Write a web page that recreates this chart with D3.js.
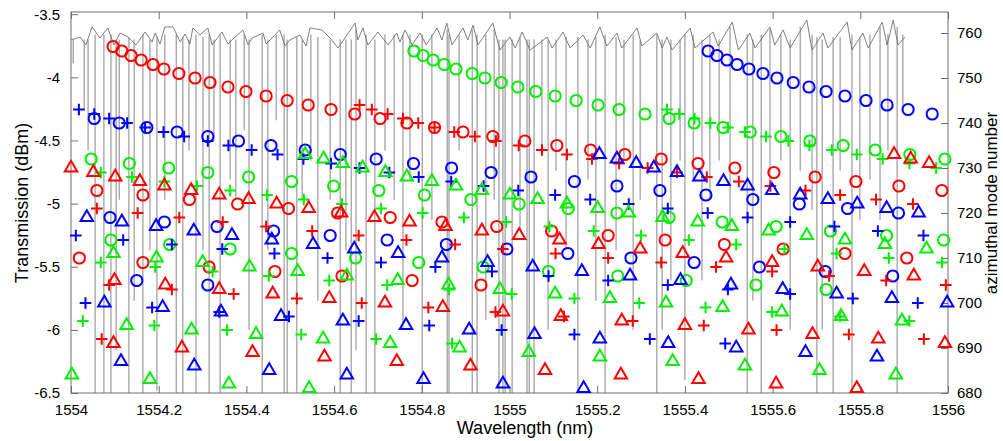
<!DOCTYPE html>
<html>
<head>
<meta charset="utf-8">
<script src="https://cdn.jsdelivr.net/npm/d3@7"></script>
<style>
  body { margin: 0; background: #fff; }
  svg { display: block; }
  text { font-family: "Liberation Sans", Arial, sans-serif; fill: #000; }
</style>
</head>
<body>
<svg id="chart" width="1003" height="441"></svg>
<script>
// axis ticks
const xTicks = [1554, 1554.2, 1554.4, 1554.6, 1554.8, 1555, 1555.2, 1555.4, 1555.6, 1555.8, 1556];
const leftTicks = [-6.5, -6, -5.5, -5, -4.5, -4, -3.5];
const rightTicks = [680, 690, 700, 710, 720, 730, 740, 750, 760];

// transmission trace: slowly varying top of the spectrum [wavelength, dBm]
const traceTop = [
  [1554.000,-3.704],[1554.021,-3.681],[1554.034,-3.744],[1554.048,-3.601],[1554.066,-3.689],[1554.084,-3.609],
  [1554.098,-3.744],[1554.112,-3.649],[1554.130,-3.681],[1554.148,-3.744],[1554.169,-3.641],[1554.185,-3.720],
  [1554.192,-3.649],[1554.203,-3.736],[1554.214,-3.601],[1554.233,-3.601],[1554.249,-3.720],[1554.260,-3.657],
  [1554.271,-3.736],[1554.278,-3.609],[1554.294,-3.665],[1554.312,-3.609],[1554.322,-3.744],[1554.344,-3.641],
  [1554.358,-3.736],[1554.367,-3.704],[1554.392,-3.625],[1554.404,-3.744],[1554.413,-3.689],[1554.438,-3.649],
  [1554.445,-3.736],[1554.454,-3.704],[1554.476,-3.625],[1554.488,-3.752],[1554.499,-3.704],[1554.522,-3.665],
  [1554.536,-3.752],[1554.545,-3.609],[1554.572,-3.625],[1554.591,-3.689],[1554.609,-3.768],[1554.648,-3.570],
  [1554.654,-3.704],[1554.666,-3.609],[1554.677,-3.744],[1554.700,-3.641],[1554.723,-3.744],[1554.743,-3.649],
  [1554.750,-3.720],[1554.762,-3.625],[1554.778,-3.744],[1554.796,-3.649],[1554.810,-3.744],[1554.835,-3.609],
  [1554.846,-3.704],[1554.857,-3.570],[1554.869,-3.744],[1554.894,-3.609],[1554.905,-3.704],[1554.917,-3.586],
  [1554.928,-3.744],[1554.962,-3.570],[1554.978,-3.784],[1555.001,-3.681],[1555.013,-3.768],[1555.029,-3.641],
  [1555.047,-3.784],[1555.086,-3.681],[1555.097,-3.768],[1555.122,-3.641],[1555.138,-3.768],[1555.168,-3.665],
  [1555.184,-3.768],[1555.206,-3.601],[1555.222,-3.752],[1555.245,-3.649],[1555.256,-3.768],[1555.291,-3.609],
  [1555.302,-3.752],[1555.336,-3.649],[1555.348,-3.768],[1555.359,-3.681],[1555.371,-3.784],[1555.412,-3.609],
  [1555.423,-3.768],[1555.464,-3.641],[1555.476,-3.752],[1555.508,-3.562],[1555.522,-3.784],[1555.548,-3.649],
  [1555.560,-3.768],[1555.594,-3.601],[1555.605,-3.744],[1555.624,-3.625],[1555.640,-3.768],[1555.678,-3.546],
  [1555.690,-3.784],[1555.715,-3.649],[1555.726,-3.768],[1555.770,-3.562],[1555.781,-3.784],[1555.806,-3.649],
  [1555.818,-3.768],[1555.850,-3.562],[1555.861,-3.744],[1555.875,-3.546],[1555.886,-3.744],[1555.902,-3.681]
];

// resonance dips of the trace [wavelength, level at dip top, dip minimum] (below -6.5 is off scale)
const traceDips = [
  [1554.005,-3.70,-3.89],[1554.030,-3.70,-4.26],[1554.039,-3.70,-4.58],[1554.055,-3.66,-7],[1554.075,-3.66,-7],
  [1554.091,-3.66,-7],[1554.103,-3.70,-6.16],[1554.110,-3.70,-4.97],[1554.132,-3.68,-7],[1554.144,-3.70,-5.77],
  [1554.164,-3.66,-7],[1554.180,-3.70,-5.37],[1554.196,-3.68,-6.48],[1554.214,-3.66,-4.97],[1554.240,-3.66,-7],
  [1554.255,-3.68,-7],[1554.269,-3.70,-4.58],[1554.285,-3.66,-7],[1554.301,-3.68,-5.37],[1554.315,-3.66,-7],
  [1554.326,-3.70,-4.50],[1554.340,-3.66,-7],[1554.363,-3.70,-4.81],[1554.376,-3.70,-4.97],[1554.395,-3.66,-4.42],
  [1554.406,-3.70,-6.00],[1554.436,-3.66,-7],[1554.449,-3.70,-5.37],[1554.468,-3.66,-4.34],[1554.486,-3.66,-7],
  [1554.493,-3.70,-7],[1554.515,-3.68,-7],[1554.527,-3.70,-4.97],[1554.547,-3.66,-4.66],[1554.563,-3.68,-5.77],
  [1554.591,-3.70,-4.97],[1554.614,-3.70,-7],[1554.627,-3.70,-5.37],[1554.639,-3.70,-7],[1554.650,-3.62,-6.16],
  [1554.673,-3.66,-7],[1554.693,-3.70,-7],[1554.716,-3.66,-4.58],[1554.737,-3.66,-4.97],[1554.757,-3.66,-6.00],
  [1554.773,-3.66,-4.81],[1554.801,-3.66,-7],[1554.823,-3.66,-5.13],[1554.858,-3.62,-7],[1554.862,-3.66,-7],
  [1554.885,-3.66,-4.58],[1554.915,-3.62,-7],[1554.926,-3.66,-7],[1554.946,-3.66,-5.92],[1554.965,-3.62,-4.97],
  [1554.976,-3.70,-7],[1554.985,-3.70,-7],[1554.990,-3.70,-7],[1555.006,-3.70,-7],[1555.024,-3.68,-5.21],
  [1555.040,-3.70,-7],[1555.045,-3.70,-7],[1555.056,-3.70,-7],[1555.074,-3.70,-4.58],[1555.088,-3.70,-6.00],
  [1555.106,-3.70,-4.74],[1555.129,-3.68,-5.37],[1555.156,-3.68,-7],[1555.179,-3.70,-4.81],[1555.197,-3.68,-5.77],
  [1555.218,-3.66,-7],[1555.243,-3.68,-5.37],[1555.261,-3.70,-4.66],[1555.282,-3.66,-6.00],[1555.298,-3.70,-4.97],
  [1555.336,-3.66,-7],[1555.348,-3.70,-6.00],[1555.368,-3.70,-5.61],[1555.389,-3.70,-4.66],[1555.400,-3.66,-6.40],
  [1555.419,-3.66,-4.81],[1555.439,-3.70,-5.61],[1555.457,-3.66,-4.97],[1555.478,-3.70,-4.66],[1555.503,-3.60,-5.21],
  [1555.542,-3.66,-7],[1555.555,-3.70,-5.77],[1555.574,-3.66,-7],[1555.594,-3.62,-4.89],[1555.619,-3.66,-4.66],
  [1555.640,-3.70,-6.00],[1555.663,-3.60,-4.74],[1555.690,-3.66,-5.05],[1555.701,-3.68,-7],[1555.713,-3.70,-6.00],
  [1555.738,-3.68,-7],[1555.754,-3.68,-4.74],[1555.781,-3.66,-7],[1555.799,-3.68,-5.13],[1555.822,-3.66,-4.81],
  [1555.845,-3.60,-5.13],[1555.863,-3.66,-4.58],[1555.884,-3.60,-7],[1555.897,-3.66,-4.26]
];

// measured resonances [wavelength (nm), azimuthal mode number]
const redCircles = [
  [1554.096,757],[1554.116,756],[1554.137,755],[1554.160,754],[1554.187,753],[1554.212,752],[1554.246,751],
  [1554.283,750],[1554.317,749],[1554.358,748],[1554.399,747],[1554.445,746],[1554.493,745],[1554.541,744],
  [1554.593,743],[1554.647,742],[1554.705,741],[1554.766,740],[1554.829,739],[1554.894,738],[1554.962,737],
  [1555.035,736],[1555.108,735],[1555.185,734],[1555.263,733],[1555.346,732],[1555.430,731],[1555.514,730],
  [1555.603,729],[1555.697,728],[1555.790,727],[1555.888,726],[1555.986,725],
  [1554.059,725],[1554.164,724],[1554.270,723],[1554.380,722],[1554.496,721],[1554.608,720],[1554.728,719],
  [1554.846,718],[1554.971,717],[1555.096,716],[1555.225,715],[1555.355,714],[1555.490,713],[1555.624,712],
  [1555.765,711],[1555.906,710],
  [1554.019,710],[1554.164,709],[1554.315,708],[1554.465,707],[1554.618,706],[1554.778,705],[1554.935,704]
];
const redPlus = [
  [1554.658,744],[1554.686,743],[1554.722,742],[1554.757,741],[1554.792,740],[1554.829,739],[1554.874,738],
  [1554.921,737],[1554.969,736],[1555.021,735],[1555.074,734],[1555.131,733],[1555.188,732],[1555.250,731],
  [1555.315,730],[1555.382,729],[1555.450,728],[1555.523,727],[1555.595,726],[1555.675,725],[1555.754,724],
  [1555.836,723],[1555.920,722],
  [1554.059,721],[1554.152,720],[1554.247,719],[1554.346,718],[1554.445,717],[1554.550,716],[1554.656,715],
  [1554.765,714],[1554.876,713],[1554.985,712],[1555.105,711],[1555.225,710],[1555.346,709],[1555.471,708],
  [1555.599,707],[1555.729,706],[1555.859,705],[1555.995,704],
  [1554.087,704],[1554.230,703],[1554.371,702],[1554.515,701],[1554.663,700],[1554.815,699],[1554.968,698],
  [1555.124,697],[1555.281,696],[1555.443,695],[1555.609,694],[1555.774,693],[1555.945,692],
  [1554.070,692]
];
const redTriangles = [
  [1555.877,733],[1555.915,732],[1555.957,731],
  [1554.000,730],[1554.051,729],[1554.101,728],[1554.157,727],[1554.213,726],[1554.274,725],[1554.338,724],
  [1554.405,723],[1554.469,722],[1554.542,721],[1554.616,720],[1554.692,719],[1554.772,718],[1554.854,717],
  [1554.937,716],[1555.022,715],[1555.114,714],[1555.203,713],[1555.298,712],[1555.395,711],[1555.494,710],
  [1555.599,709],[1555.703,708],[1555.809,707],[1555.922,706],
  [1554.099,705],[1554.215,704],[1554.338,703],[1554.460,702],[1554.589,701],[1554.716,700],[1554.848,699],
  [1554.985,698],[1555.117,697],[1555.256,696],[1555.400,695],[1555.545,694],[1555.691,693],[1555.841,692],
  [1555.993,691],
  [1554.097,691],[1554.253,690],[1554.414,689],[1554.578,688],[1554.743,687],[1554.911,686],[1555.081,685],
  [1555.254,684],[1555.431,683],[1555.608,682],[1555.792,681]
];
const greenCircles = [
  [1554.782,756],[1554.803,755],[1554.826,754],[1554.851,753],[1554.878,752],[1554.915,751],[1554.944,750],
  [1554.981,749],[1555.019,748],[1555.060,747],[1555.104,746],[1555.152,745],[1555.202,744],[1555.250,743],
  [1555.309,742],[1555.364,741],[1555.421,740],[1555.487,739],[1555.549,738],[1555.619,737],[1555.685,736],
  [1555.761,735],[1555.834,734],[1555.913,733],[1555.993,732],
  [1554.046,732],[1554.133,731],[1554.223,730],[1554.312,729],[1554.405,728],[1554.503,727],[1554.599,726],
  [1554.702,725],[1554.806,724],[1554.912,723],[1555.022,722],[1555.134,721],[1555.245,720],[1555.364,719],
  [1555.485,718],[1555.608,717],[1555.732,716],[1555.860,715],[1555.990,714],
  [1554.091,714],[1554.225,713],[1554.363,712],[1554.503,711],[1554.649,710],[1554.793,709],[1554.940,708],
  [1555.089,707],[1555.247,706],[1555.403,705],[1555.562,704],[1555.722,703]
];
const greenPlus = [
  [1555.359,743],[1555.387,742],[1555.422,741],[1555.458,740],[1555.498,739],[1555.537,738],[1555.585,737],
  [1555.636,736],[1555.684,735],[1555.735,734],[1555.792,733],[1555.851,732],[1555.912,731],[1555.973,730],
  [1554.068,729],[1554.139,728],[1554.213,727],[1554.287,726],[1554.363,725],[1554.447,724],[1554.531,723],
  [1554.618,722],[1554.707,721],[1554.802,720],[1554.896,719],[1554.992,718],[1555.091,717],[1555.192,716],
  [1555.300,715],[1555.409,714],[1555.517,713],[1555.627,712],[1555.746,711],[1555.865,710],[1555.986,709],
  [1554.068,709],[1554.192,708],[1554.323,707],[1554.451,706],[1554.589,705],[1554.721,704],[1554.862,703],
  [1555.005,702],[1555.148,701],[1555.296,700],[1555.447,699],[1555.599,698],[1555.754,697],[1555.912,696],
  [1554.027,696],[1554.190,695],[1554.356,694],[1554.525,693],[1554.696,692],[1554.869,691]
];
const greenTriangles = [
  [1554.534,733],[1554.576,732],[1554.620,731],[1554.665,730],[1554.717,729],[1554.766,728],[1554.823,727],
  [1554.878,726],[1554.937,725],[1555.001,724],[1555.064,723],[1555.131,722],[1555.201,721],[1555.272,720],
  [1555.349,719],[1555.429,718],[1555.507,717],[1555.591,716],[1555.678,715],[1555.765,714],[1555.856,713],
  [1555.951,712],
  [1554.097,711],[1554.195,710],[1554.300,709],[1554.407,708],[1554.517,707],[1554.629,706],[1554.745,705],
  [1554.861,704],[1554.978,703],[1555.104,702],[1555.229,701],[1555.357,700],[1555.486,699],[1555.621,698],
  [1555.756,697],[1555.895,696],
  [1554.127,695],[1554.275,694],[1554.422,693],[1554.575,692],[1554.728,691],[1554.886,690],[1555.044,689],
  [1555.206,688],[1555.372,687],[1555.537,686],[1555.707,685],[1555.881,684],
  [1554.002,684],[1554.180,683],[1554.360,682],[1554.543,681]
];
const blueCircles = [
  [1555.453,756],[1555.473,755],[1555.496,754],[1555.519,753],[1555.546,752],[1555.578,751],[1555.610,750],
  [1555.647,749],[1555.683,748],[1555.722,747],[1555.765,746],[1555.813,745],[1555.861,744],[1555.909,743],
  [1555.964,742],
  [1554.053,741],[1554.110,740],[1554.173,739],[1554.242,738],[1554.312,737],[1554.382,736],[1554.456,735],
  [1554.534,734],[1554.614,733],[1554.696,732],[1554.781,731],[1554.868,730],[1554.958,729],[1555.049,728],
  [1555.148,727],[1555.245,726],[1555.343,725],[1555.448,724],[1555.555,723],[1555.661,722],[1555.771,721],
  [1555.887,720],
  [1554.089,719],[1554.213,718],[1554.333,717],[1554.462,716],[1554.591,715],[1554.721,714],[1554.856,713],
  [1554.994,712],[1555.133,711],[1555.277,710],[1555.421,709],[1555.570,708],[1555.720,707],[1555.874,706],
  [1554.150,705],[1554.312,704]
];
const bluePlus = [
  [1554.018,743],[1554.053,742],[1554.087,741],[1554.128,740],[1554.169,739],[1554.211,738],[1554.258,737],
  [1554.312,736],[1554.359,735],[1554.412,734],[1554.471,733],[1554.530,732],[1554.593,731],[1554.658,730],
  [1554.726,729],[1554.793,728],[1554.867,727],[1554.941,726],[1555.020,725],[1555.104,724],[1555.184,723],
  [1555.272,722],[1555.361,721],[1555.452,720],[1555.543,719],[1555.640,718],[1555.741,717],[1555.840,716],
  [1555.944,715],
  [1554.011,715],[1554.119,714],[1554.230,713],[1554.345,712],[1554.464,711],[1554.585,710],[1554.707,709],
  [1554.831,708],[1554.960,707],[1555.089,706],[1555.225,705],[1555.361,704],[1555.498,703],[1555.640,702],
  [1555.783,701],[1555.931,700],
  [1554.033,700],[1554.185,699],[1554.338,698],[1554.497,697],[1554.656,696],[1554.817,695],[1554.982,694],
  [1555.148,693],[1555.320,692],[1555.492,691]
];
const blueTriangles = [
  [1555.205,733],[1555.245,732],[1555.289,731],[1555.329,730],[1555.382,729],[1555.433,728],[1555.488,727],
  [1555.543,726],[1555.599,725],[1555.663,724],[1555.726,723],[1555.793,722],[1555.860,721],[1555.933,720],
  [1554.036,719],[1554.116,718],[1554.194,717],[1554.280,716],[1554.367,715],[1554.458,714],[1554.552,713],
  [1554.646,712],[1554.746,711],[1554.846,710],[1554.950,709],[1555.053,708],[1555.165,707],[1555.275,706],
  [1555.390,705],[1555.505,704],[1555.623,703],[1555.746,702],[1555.872,701],[1555.998,700],
  [1554.076,700],[1554.209,699],[1554.342,698],[1554.479,697],[1554.620,696],[1554.764,695],[1554.908,694],
  [1555.057,693],[1555.206,692],[1555.362,691],[1555.517,690],[1555.675,689],[1555.838,688],
  [1554.114,687],[1554.281,686],[1554.452,685],[1554.629,684],[1554.804,683],[1554.985,682],[1555.169,681]
];

const series = [
  { data: redCircles, color: "#ff0000", shape: "circle" },
  { data: greenCircles, color: "#00ee00", shape: "circle" },
  { data: blueCircles, color: "#0000ff", shape: "circle" },
  { data: redPlus, color: "#ff0000", shape: "plus" },
  { data: greenPlus, color: "#00ee00", shape: "plus" },
  { data: bluePlus, color: "#0000ff", shape: "plus" },
  { data: redTriangles, color: "#ff0000", shape: "triangle" },
  { data: greenTriangles, color: "#00ee00", shape: "triangle" },
  { data: blueTriangles, color: "#0000ff", shape: "triangle" }
];

const svg = d3.select("#chart");
const width = 1003, height = 441;
const plot = { left: 71, right: 948, top: 12, bottom: 393 };

svg.append("rect").attr("width", width).attr("height", height).attr("fill", "#fff");

const x = d3.scaleLinear().domain([1554, 1556]).range([plot.left, plot.right]);
const yLeft = d3.scaleLinear().domain([-6.5, -3.5]).range([plot.bottom, 14.2]);
const yRight = d3.scaleLinear().domain([680, 760]).range([plot.bottom, 33]);

svg.append("clipPath").attr("id", "clip")
  .append("rect")
  .attr("x", plot.left).attr("y", plot.top)
  .attr("width", plot.right - plot.left).attr("height", plot.bottom - plot.top);

// transmission spectrum (left axis)
const trace = svg.append("g").attr("clip-path", "url(#clip)");
trace.selectAll("line.dip")
  .data(traceDips)
  .enter()
  .append("line")
  .attr("class", "dip")
  .attr("x1", (d) => x(d[0]))
  .attr("x2", (d) => x(d[0]))
  .attr("y1", (d) => yLeft(d[1]))
  .attr("y2", (d) => yLeft(d[2]))
  .attr("stroke", "#9a9a9a")
  .attr("stroke-width", 1.2);

const line = d3.line()
  .x((d) => x(d[0]))
  .y((d) => yLeft(d[1]));
trace.append("path")
  .datum(traceTop)
  .attr("fill", "none")
  .attr("stroke", "#707070")
  .attr("stroke-width", 0.9)
  .attr("d", line);

// frame and axes
const axisColor = "#6e6e6e";
const styleAxis = (g) => {
  g.select(".domain").remove();
  g.selectAll(".tick line").attr("stroke", axisColor);
  g.selectAll(".tick text")
    .attr("font-size", 15)
    .attr("font-family", "Liberation Sans, Arial, sans-serif")
    .attr("fill", "#000");
};

svg.append("g")
  .attr("transform", `translate(0,${plot.bottom})`)
  .call(d3.axisBottom(x).tickValues(xTicks).tickFormat(d3.format("")).tickSize(-7).tickPadding(11))
  .call(styleAxis);

svg.append("g")
  .attr("transform", `translate(0,${plot.top})`)
  .call(d3.axisTop(x).tickValues(xTicks).tickFormat("").tickSize(-7))
  .call(styleAxis);

svg.append("g")
  .attr("transform", `translate(${plot.left},0)`)
  .call(d3.axisLeft(yLeft).tickValues(leftTicks).tickFormat((d) => String(d)).tickSize(-7).tickPadding(11))
  .call(styleAxis);

svg.append("g")
  .attr("transform", `translate(${plot.right},0)`)
  .call(d3.axisRight(yRight).tickValues(rightTicks).tickSize(-7).tickPadding(9))
  .call(styleAxis);

svg.append("rect")
  .attr("x", plot.left).attr("y", plot.top)
  .attr("width", plot.right - plot.left).attr("height", plot.bottom - plot.top)
  .attr("fill", "none")
  .attr("stroke", axisColor)
  .attr("stroke-width", 1);

// markers (right axis)
const markers = svg.append("g");
const triPath = (k) => `M0,${-2 * k}L${Math.sqrt(3) * k},${k}L${-Math.sqrt(3) * k},${k}Z`;

series.forEach((s) => {
  const sel = markers.selectAll(null)
    .data(s.data)
    .enter()
    .append("g")
    .attr("transform", (d) => `translate(${x(d[0])},${yRight(d[1])})`)
    .attr("fill", "none")
    .attr("stroke", s.color)
    .attr("stroke-width", 2);
  if (s.shape === "circle") {
    sel.append("circle").attr("r", 5.6);
  } else if (s.shape === "plus") {
    sel.append("path").attr("d", "M-5.8,0H5.8M0,-5.8V5.8");
  } else {
    sel.append("path").attr("d", triPath(3.6)).attr("stroke-linejoin", "miter");
  }
});

// axis titles
svg.append("text")
  .attr("x", 525).attr("y", 434)
  .attr("text-anchor", "middle")
  .attr("font-size", 18)
  .text("Wavelength (nm)");

svg.append("text")
  .attr("transform", "translate(28,203) rotate(-90)")
  .attr("text-anchor", "middle")
  .attr("font-size", 18)
  .text("Transmission (dBm)");

svg.append("text")
  .attr("transform", "translate(997,203) rotate(-90)")
  .attr("text-anchor", "middle")
  .attr("font-size", 17)
  .text("azimuthal mode number");
</script>
</body>
</html>
